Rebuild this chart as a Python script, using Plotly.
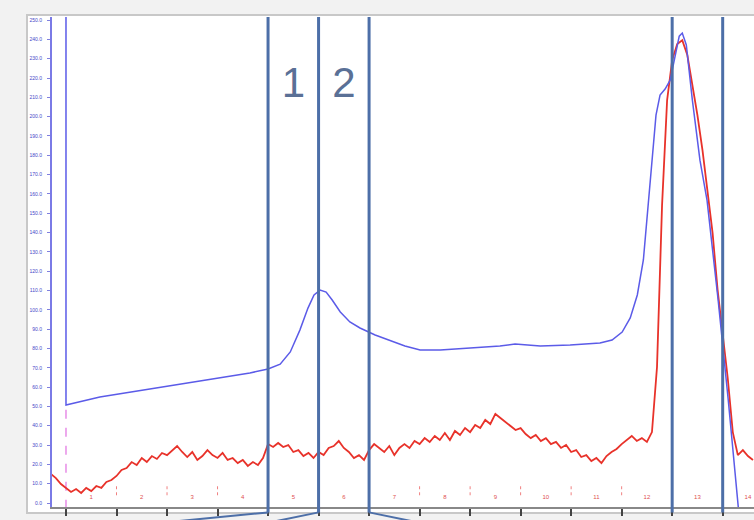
import numpy as np
import plotly.graph_objects as go

# ---------------- data ----------------
# UV absorbance trace (blue), x in ml
uv_x = [0.0, 0.0, 0.67, 1.66, 2.65, 3.64, 4.0, 4.24, 4.44, 4.63, 4.79, 4.91, 5.03, 5.15,
        5.27, 5.43, 5.62, 5.82, 6.12, 6.42, 6.71, 7.01, 7.41, 8.0, 8.59, 8.89, 9.39,
        9.98, 10.57, 10.81, 11.01, 11.17, 11.31, 11.43, 11.52, 11.60, 11.68, 11.76,
        11.86, 11.96, 12.06, 12.14, 12.20, 12.28, 12.40, 12.55, 12.69, 12.91, 13.11,
        13.29, 13.33]
uv_y = [260.0, 50.7, 54.9, 59.0, 63.1, 67.3, 69.4, 71.9, 78.2, 89.5, 100.9, 107.7, 110.2,
        109.2, 105.1, 98.9, 93.7, 90.6, 87.0, 83.9, 81.3, 79.2, 79.2, 80.2, 81.3, 82.3,
        81.3, 81.8, 82.8, 84.4, 88.5, 95.8, 107.7, 125.8, 151.7, 177.5, 200.8, 211.2,
        214.3, 218.9, 231.9, 241.7, 243.3, 237.1, 208.6, 177.5, 156.8, 105.1, 53.3,
        4.1, -8.0]

# Second signal (red), sampled every 0.1 ml starting at -0.3 ml
red_x_start = -0.3
red_x_step = 0.1
red_y = [15.0,
         12.9, 9.8, 7.8, 5.7, 7.2, 5.2, 7.8, 6.2, 8.8, 7.8,
         10.9, 11.9, 14.0, 17.1, 18.1, 21.2, 19.7, 23.3, 21.2, 24.3,
         22.8, 25.9, 24.8, 27.4, 29.5, 26.4, 23.8, 26.4, 22.3, 24.3,
         27.4, 24.8, 23.3, 25.9, 22.3, 23.3, 20.7, 22.3, 19.2, 21.2,
         19.7, 23.3, 30.5, 29.0, 31.1, 29.0, 30.0, 26.4, 27.4, 24.3,
         25.9, 23.3, 26.4, 24.8, 28.5, 29.5, 32.1, 28.5, 26.4, 23.3,
         24.8, 22.3, 27.4, 30.5, 28.5, 26.4, 29.5, 24.8, 28.5, 30.5,
         28.5, 32.1, 30.5, 33.6, 31.6, 34.7, 32.6, 36.2, 32.6, 37.3,
         35.2, 38.8, 36.7, 40.4, 38.8, 43.0, 40.9, 46.1, 44.0, 41.9,
         39.9, 37.8, 38.8, 35.7, 33.6, 35.2, 32.1, 33.6, 30.5, 31.6,
         28.5, 30.0, 26.4, 27.4, 23.8, 24.8, 21.7, 23.3, 20.7, 24.3,
         26.4, 28.0, 30.5, 32.6, 34.7, 32.1, 33.6, 31.6, 36.7, 70.4,
         154.2, 208.6, 229.3, 237.6, 239.6, 231.9, 217.4, 200.8, 182.7, 161.0,
         139.8, 110.2, 87.0, 64.7, 36.7, 24.8, 27.4, 24.3, 22.3]

marker_x = [4, 5, 6, 12, 13]
bracket_dx = [-1.9, -0.9, 0.9, 0.0, 0.0]
peak_labels = ["1", "2"]
peak_label_x = [4.5, 5.5]
peak_label_y = 215.8

x_tick_vals = list(range(0, 14))
fraction_marks = list(range(1, 14))
fraction_labels = [str(i) for i in range(1, 15)]
fraction_label_x = [i - 0.5 for i in range(1, 15)]
fraction_label_y = 3.1
y_tick_vals = list(range(0, 251, 10))
injection_x = 0.0

# ---------------- figure ----------------
red_x = np.round(red_x_start + red_x_step * np.arange(len(red_y)), 3)

fig = go.Figure()

# injection mark
fig.add_trace(go.Scatter(x=[injection_x, injection_x], y=[-3, uv_y[1]], mode="lines",
                         line=dict(color="#e070e0", width=1.2, dash="dash"),
                         hoverinfo="skip", showlegend=False))

# fraction marks (red dotted)
fx, fy = [], []
for m in fraction_marks:
    fx += [m, m, None]
    fy += [4, 9, None]
fig.add_trace(go.Scatter(x=fx, y=fy, mode="lines",
                         line=dict(color="#f08080", width=1, dash="dot"),
                         hoverinfo="skip", showlegend=False))

fig.add_trace(go.Scatter(x=red_x, y=red_y, mode="lines",
                         line=dict(color="#e8322a", width=1.8),
                         showlegend=False))
fig.add_trace(go.Scatter(x=uv_x, y=uv_y, mode="lines",
                         line=dict(color="#5b5be8", width=1.5),
                         showlegend=False))

fig.add_trace(go.Scatter(x=fraction_label_x, y=[fraction_label_y] * len(fraction_label_x),
                         mode="text", text=fraction_labels,
                         textfont=dict(color="#e05050", size=6, family="Liberation Sans"),
                         hoverinfo="skip", showlegend=False))

fig.add_trace(go.Scatter(x=peak_label_x, y=[peak_label_y] * len(peak_label_x),
                         mode="text", text=peak_labels,
                         textfont=dict(color="#5a7096", size=42, family="Liberation Sans"),
                         hoverinfo="skip", showlegend=False))

shapes = []
# white panel behind the plot
shapes.append(dict(type="rect", xref="paper", yref="paper", x0=-0.0356, x1=1.01,
                   y0=-0.0122, y1=1.004, fillcolor="white",
                   line=dict(color="#c8c8c8", width=2), layer="below"))
for mx, dx in zip(marker_x, bracket_dx):
    shapes.append(dict(type="line", xref="x", yref="paper", x0=mx, x1=mx, y0=-0.011, y1=1.0,
                       line=dict(color="#4d6fa8", width=3)))
    if dx != 0:
        shapes.append(dict(type="line", xref="x", yref="paper", x0=mx, x1=mx + dx,
                           y0=-0.011, y1=-0.03, line=dict(color="#4d6fa8", width=2)))

fig.update_layout(
    width=754, height=520,
    margin=dict(l=52, r=0, t=17, b=13),
    paper_bgcolor="#f2f2f2",
    plot_bgcolor="white",
    shapes=shapes,
    font=dict(family="Liberation Sans"),
    xaxis=dict(range=[-0.277, 13.62], tickvals=x_tick_vals, showticklabels=False,
               ticks="outside", ticklen=7, tickwidth=2, tickcolor="#444",
               showgrid=False, zeroline=False, showline=True, linecolor="#888",
               linewidth=1.5),
    yaxis=dict(range=[-2.07, 251.6], tickvals=y_tick_vals, tickformat=".1f",
               tickfont=dict(color="#4646c8", size=5),
               ticks="outside", ticklen=3, tickcolor="#8080e0",
               ticklabelstandoff=4,
               showgrid=False, zeroline=False, showline=True, linecolor="#7a7ae6",
               linewidth=2),
)

fig.write_html("out.html")
